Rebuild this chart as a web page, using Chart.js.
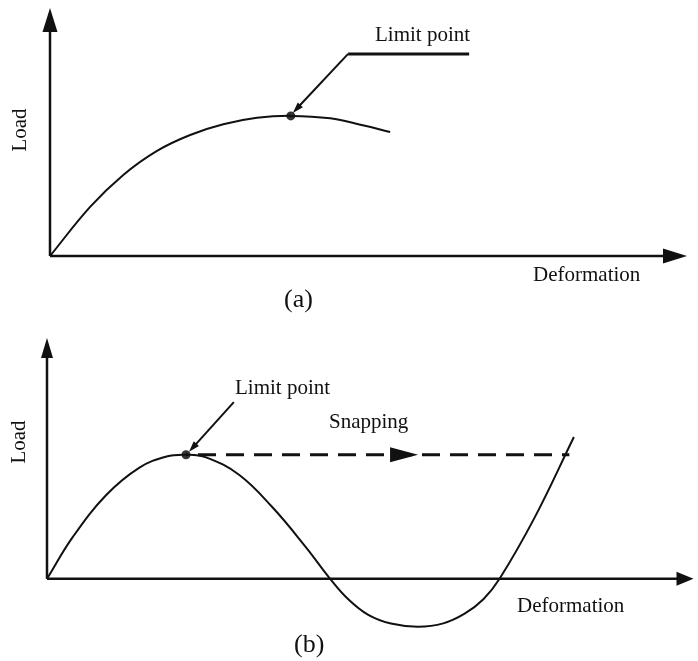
<!DOCTYPE html>
<html>
<head>
<meta charset="utf-8">
<script src="https://cdn.jsdelivr.net/npm/chart.js@4.4.1/dist/chart.umd.min.js"></script>
<style>
  body { margin: 0; background: #fff; }
  .panel { position: absolute; left: 0; }
</style>
</head>
<body>
<canvas id="chartA" class="panel" style="top:0" width="698" height="320"></canvas>
<canvas id="chartB" class="panel" style="top:320px" width="698" height="341"></canvas>
<script>
// (a) load-deformation curve with a limit point
var deformA = [0, 0.63, 1.15, 1.68, 2.20, 2.72, 3.25, 3.78, 4.40, 4.91, 5.34];
var loadA   = [0, 1.98, 3.27, 4.24, 4.88, 5.31, 5.57, 5.65, 5.55, 5.27, 5.00];
var limitA  = [3.78, 5.65];

// (b) curve that snaps through after its limit point
var deformB = [0, 0.40, 0.92, 1.43, 1.85, 2.15, 2.46, 2.97, 3.48, 4.00, 4.38, 4.66, 4.97, 5.32, 5.74, 6.13, 6.46, 6.75, 7.00, 7.54, 8.15];
var loadB   = [0, 1.74, 3.49, 4.62, 5.08, 5.15, 5.04, 4.32, 2.99, 1.33, 0.00, -0.85, -1.50, -1.86, -1.99, -1.85, -1.45, -0.85, 0.00, 2.53, 5.89];
var limitB  = [2.15, 5.15];
var snapEndB = 8.08;

var serif = '"Liberation Serif", "Times New Roman", serif';
var ink = '#111';

function toPoints(xs, ys) {
    return xs.map(function (x, i) { return { x: x, y: ys[i] }; });
}

function fillArrow(ctx, tipX, tipY, angle, len, width) {
    ctx.save();
    ctx.translate(tipX, tipY);
    ctx.rotate(angle);
    ctx.beginPath();
    ctx.moveTo(0, 0);
    ctx.lineTo(-len, -width / 2);
    ctx.lineTo(-len, width / 2);
    ctx.closePath();
    ctx.fillStyle = ink;
    ctx.fill();
    ctx.restore();
}

function drawAxes(chart, yHead, xHead) {
    var ctx = chart.ctx, area = chart.chartArea;
    var x0 = chart.scales.x.getPixelForValue(0);
    var y0 = chart.scales.y.getPixelForValue(0);
    ctx.save();
    ctx.strokeStyle = ink;
    ctx.lineWidth = 2.5;
    ctx.beginPath();
    ctx.moveTo(x0, y0);
    ctx.lineTo(x0, area.top + yHead[0] - 2);
    ctx.moveTo(x0, y0);
    ctx.lineTo(area.right - xHead[0] + 2, y0);
    ctx.stroke();
    ctx.restore();
    fillArrow(ctx, x0, area.top, -Math.PI / 2, yHead[0], yHead[1]);
    fillArrow(ctx, area.right, y0, 0, xHead[0], xHead[1]);
}

function leader(ctx, fromX, fromY, toX, toY, width) {
    var angle = Math.atan2(toY - fromY, toX - fromX);
    ctx.save();
    ctx.strokeStyle = ink;
    ctx.lineWidth = width;
    ctx.beginPath();
    ctx.moveTo(fromX, fromY);
    ctx.lineTo(toX - 8 * Math.cos(angle), toY - 8 * Math.sin(angle));
    ctx.stroke();
    ctx.restore();
    fillArrow(ctx, toX, toY, angle, 11, 7);
}

function text(ctx, str, x, y, size, rotate) {
    ctx.save();
    ctx.fillStyle = ink;
    ctx.font = size + 'px ' + serif;
    ctx.textBaseline = 'alphabetic';
    ctx.translate(x, y);
    if (rotate) {
        ctx.rotate(-Math.PI / 2);
        ctx.textAlign = 'center';
    } else {
        ctx.textAlign = 'left';
    }
    ctx.fillText(str, 0, 0);
    ctx.restore();
}

var annotateA = {
    id: 'annotateA',
    beforeDatasetsDraw: function (chart) {
        drawAxes(chart, [24, 15], [24, 15]);
    },
    afterDatasetsDraw: function (chart) {
        var ctx = chart.ctx, sx = chart.scales.x, sy = chart.scales.y;
        var px = sx.getPixelForValue(limitA[0]), py = sy.getPixelForValue(limitA[1]);
        var elbowX = sx.getPixelForValue(4.68), elbowY = sy.getPixelForValue(8.15);
        var endX = sx.getPixelForValue(6.58);
        ctx.save();
        ctx.strokeStyle = ink;
        ctx.lineWidth = 3;
        ctx.beginPath();
        ctx.moveTo(elbowX, elbowY);
        ctx.lineTo(endX, elbowY);
        ctx.stroke();
        ctx.restore();
        leader(ctx, elbowX, elbowY, px + 2, py - 3, 2);

        text(ctx, 'Limit point', 375, 41, 21);
        text(ctx, 'Deformation', 533, 281, 21);
        text(ctx, '(a)', 284, 307, 26);
        text(ctx, 'Load', 26, 130, 21, true);
    }
};

var annotateB = {
    id: 'annotateB',
    beforeDatasetsDraw: function (chart) {
        drawAxes(chart, [20, 12], [17, 14]);
    },
    afterDatasetsDraw: function (chart) {
        var ctx = chart.ctx, sx = chart.scales.x, sy = chart.scales.y;
        var px = sx.getPixelForValue(limitB[0]), py = sy.getPixelForValue(limitB[1]);
        leader(ctx, sx.getPixelForValue(2.89), sy.getPixelForValue(7.34), px + 3, py - 3, 2);
        // direction of the snap along the dashed line
        fillArrow(ctx, sx.getPixelForValue(5.74), py, 0, 28, 15);

        text(ctx, 'Limit point', 235, 74, 21);
        text(ctx, 'Snapping', 329, 108, 21);
        text(ctx, 'Deformation', 517, 292, 21);
        text(ctx, '(b)', 294, 332, 26);
        text(ctx, 'Load', 25, 122, 21, true);
    }
};

var baseOptions = function (yMin, padding) {
    return {
        responsive: false,
        animation: false,
        events: [],
        layout: { padding: padding },
        plugins: { legend: { display: false }, tooltip: { enabled: false } },
        scales: {
            x: { type: 'linear', display: false, min: 0, max: 10 },
            y: { type: 'linear', display: false, min: yMin, max: 10 }
        }
    };
};

new Chart(document.getElementById('chartA'), {
    type: 'line',
    data: {
        datasets: [{
            data: toPoints(deformA, loadA),
            borderColor: ink,
            borderWidth: 2,
            pointRadius: 0,
            tension: 0.4,
            clip: false
        }, {
            data: [{ x: limitA[0], y: limitA[1] }],
            showLine: false,
            pointRadius: 4.5,
            pointBackgroundColor: '#333',
            pointBorderWidth: 0
        }]
    },
    options: baseOptions(0, { left: 50, right: 11, top: 8, bottom: 64 }),
    plugins: [annotateA]
});

new Chart(document.getElementById('chartB'), {
    type: 'line',
    data: {
        datasets: [{
            data: toPoints(deformB, loadB),
            borderColor: ink,
            borderWidth: 2,
            pointRadius: 0,
            tension: 0.4,
            clip: false
        }, {
            data: [{ x: limitB[0], y: limitB[1] }, { x: snapEndB, y: limitB[1] }],
            borderColor: ink,
            borderWidth: 3,
            borderDash: [18, 10],
            borderDashOffset: -12,
            pointRadius: 0
        }, {
            data: [{ x: limitB[0], y: limitB[1] }],
            showLine: false,
            pointRadius: 4.5,
            pointBackgroundColor: '#333',
            pointBorderWidth: 0
        }]
    },
    options: baseOptions(-2.5, { left: 47, right: 1, top: 18, bottom: 22 }),
    plugins: [annotateB]
});
</script>
</body>
</html>
